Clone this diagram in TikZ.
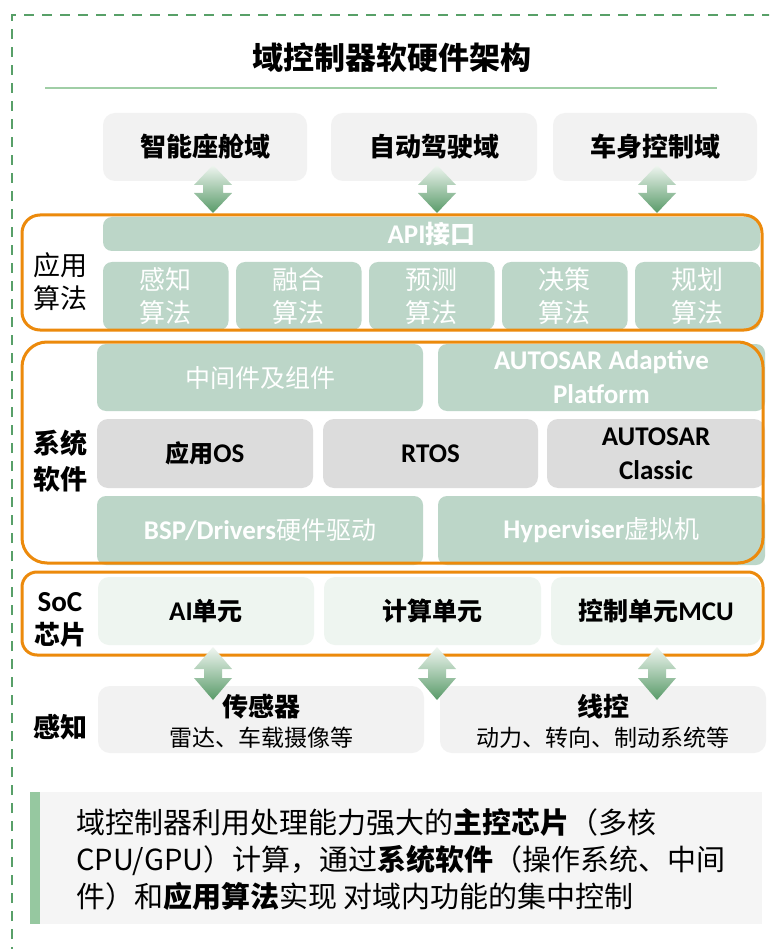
\documentclass[tikz,border=0pt]{standalone}
\usepackage{fontspec}
\setmainfont{Noto Sans CJK SC}
\newfontfamily\calib{Carlito}
\newcommand\latx[1]{{\calib #1}}
\definecolor{orng}{RGB}{236,138,12}
\definecolor{grnfill}{RGB}{188,214,200}
\definecolor{rowgray}{RGB}{220,220,220}
\definecolor{boxgray}{RGB}{242,242,242}
\definecolor{socfill}{RGB}{238,245,240}
\definecolor{dashgrn}{RGB}{88,160,104}
\definecolor{linegrn}{RGB}{160,206,166}
\definecolor{bargrn}{RGB}{150,200,160}
\definecolor{notegray}{RGB}{245,245,245}
\definecolor{arrtop}{RGB}{240,246,241}
\definecolor{arrbot}{RGB}{88,154,104}
\newcommand\udarrow[5]{\shade[top color=arrtop,bottom color=arrbot]
 (#1,#2) -- (#1+19,#2+#4) -- (#1+#5,#2+#4) -- (#1+#5,#3-#4) -- (#1+19,#3-#4) -- (#1,#3)
 -- (#1-19,#3-#4) -- (#1-#5,#3-#4) -- (#1-#5,#2+#4) -- (#1-19,#2+#4) -- cycle;}
\tikzset{
 lgray/.style={fill=boxgray, rounded corners=12pt, inner sep=0pt, text=black, align=center},
 gbox/.style={fill=grnfill, rounded corners=9pt, inner sep=0pt, text=white, align=center},
 dbox/.style={fill=rowgray, rounded corners=11pt, inner sep=0pt, text=black, align=center},
 sbox/.style={fill=socfill, rounded corners=11pt, inner sep=0pt, text=black, align=center},
 oframe/.style={draw=orng, line width=3pt},
 lbl/.style={align=center, text=black, inner sep=0pt},
}
\begin{document}
\begin{tikzpicture}[x=1pt,y=-1pt]
\useasboundingbox (0,0) rectangle (769,949);
\clip (0,0) rectangle (769,949);
\fill[white] (0,0) rectangle (769,949);
% dashed border
\draw[dashgrn, line width=2.5pt, dash pattern=on 10pt off 8pt] (12,975) -- (12,15) -- (800,15);
% title
\node[font=\fontsize{31}{36}\selectfont\bfseries, inner sep=0pt] (title) at (392,58) {域控制器软硬件架构};
\draw[linegrn, line width=2pt] (45,88) -- (717,88);
% domains
\node[lgray, minimum width=204pt, minimum height=68pt, font=\fontsize{26}{30}\selectfont\bfseries] (d1) at (205,147) {智能座舱域};
\node[lgray, minimum width=206pt, minimum height=68pt, font=\fontsize{26}{30}\selectfont\bfseries] (d2) at (434,147) {自动驾驶域};
\node[lgray, minimum width=204pt, minimum height=68pt, font=\fontsize{26}{30}\selectfont\bfseries] (d3) at (655,147) {车身控制域};
% application algorithms
\node[gbox, minimum width=657pt, minimum height=34pt, font=\fontsize{25}{28}\selectfont\bfseries] (api) at (431.5,234) {\latx{\fontsize{27}{28}\selectfont API}接口};
\foreach \i/\t/\cx in {1/感知/165.75, 2/融合/298.75, 3/预测/431.75, 4/决策/564.75, 5/规划/697.75}{
 \node[gbox, minimum width=125.5pt, minimum height=68pt, font=\fontsize{26}{33}\selectfont] (alg\i) at (\cx,296) {\t\\算法};
}
\draw[oframe, rounded corners=18pt] (22,215) rectangle (762,330);
\node[lbl, font=\fontsize{27}{33}\selectfont] (lapp) at (60,282) {应用\\算法};
% system software
\node[gbox, minimum width=326pt, minimum height=67pt, font=\fontsize{25}{30}\selectfont] (mw) at (260,377.5) {中间件及组件};
\node[gbox, minimum width=327pt, minimum height=67pt, font=\fontsize{27}{34}\selectfont\calib\bfseries] (ap) at (601.5,377.5) {AUTOSAR Adaptive\\Platform};
\node[dbox, minimum width=216pt, minimum height=69pt, font=\fontsize{24}{28}\selectfont\bfseries] (aos) at (205,453.5) {应用\latx{\fontsize{27}{28}\selectfont OS}};
\node[dbox, minimum width=215pt, minimum height=69pt, font=\fontsize{27}{28}\selectfont\calib\bfseries] (rtos) at (430.5,453.5) {RTOS};
\node[dbox, minimum width=218pt, minimum height=69pt, font=\fontsize{27}{34}\selectfont\calib\bfseries] (cp) at (656,453.5) {AUTOSAR\\Classic};
\node[gbox, minimum width=326pt, minimum height=69pt, font=\fontsize{25}{30}\selectfont] (bsp) at (260,530.5) {\latx{\fontsize{27}{30}\selectfont\bfseries BSP/Drivers}硬件驱动};
\node[gbox, minimum width=327pt, minimum height=69pt, font=\fontsize{25}{30}\selectfont] (hyp) at (601.5,530.5) {\latx{\fontsize{27}{30}\selectfont\bfseries Hyperviser}虚拟机};
\draw[oframe, rounded corners=25pt] (22,342) rectangle (763,563);
\node[lbl, font=\fontsize{27}{36}\selectfont\bfseries] (lsys) at (60,461) {系统\\软件};
% SoC
\node[sbox, minimum width=216pt, minimum height=68pt, font=\fontsize{25}{30}\selectfont\bfseries] (ai) at (206,611) {\latx{\fontsize{27}{30}\selectfont AI}单元};
\node[sbox, minimum width=217pt, minimum height=68pt, font=\fontsize{25}{30}\selectfont\bfseries] (cu) at (432.5,611) {计算单元};
\node[sbox, minimum width=210pt, minimum height=68pt, font=\fontsize{25}{30}\selectfont\bfseries] (mcu) at (656,611) {控制单元\latx{\fontsize{27}{30}\selectfont MCU}};
\draw[oframe, rounded corners=15pt] (22,572) rectangle (763,655);
\node[lbl, font=\fontsize{26}{33}\selectfont\bfseries] (lsoc) at (60,620) {\latx{\fontsize{29}{33}\selectfont SoC}\\芯片};
% perception
\node[lgray, minimum width=326pt, minimum height=67pt] (sen) at (261,719.5) {};
\node[lgray, minimum width=326pt, minimum height=67pt] (wire) at (603,719.5) {};
\node[lbl, font=\fontsize{26}{30}\selectfont\bfseries] (sent) at (261,707) {传感器};
\node[lbl, font=\fontsize{23}{28}\selectfont] (sens) at (261,738) {雷达、车载摄像等};
\node[lbl, font=\fontsize{26}{30}\selectfont\bfseries] (wiret) at (603,707) {线控};
\node[lbl, font=\fontsize{23}{28}\selectfont] (wires) at (603,738) {动力、转向、制动系统等};
\node[lbl, font=\fontsize{27}{33}\selectfont\bfseries] (lper) at (60,727) {感知};
% arrows
\udarrow{213}{165}{213}{20}{10}
\udarrow{437}{165}{213}{20}{10}
\udarrow{657}{165}{213}{20}{10}
\udarrow{213}{647}{700}{22}{9}
\udarrow{437}{647}{700}{22}{9}
\udarrow{657}{647}{700}{22}{9}
% note
\fill[notegray] (40,792) rectangle (762,924);
\fill[bargrn] (30,792) rectangle (40,924);
\node[anchor=west, align=left, inner sep=0pt, font=\fontsize{29}{37}\selectfont] (note) at (76,860)
 {域控制器利用处理能力强大的\textbf{主控芯片}（多核\\CPU/GPU）计算，通过\textbf{系统软件}（操作系统、中间\\件）和\textbf{应用算法}实现 对域内功能的集中控制};
\end{tikzpicture}
\end{document}
